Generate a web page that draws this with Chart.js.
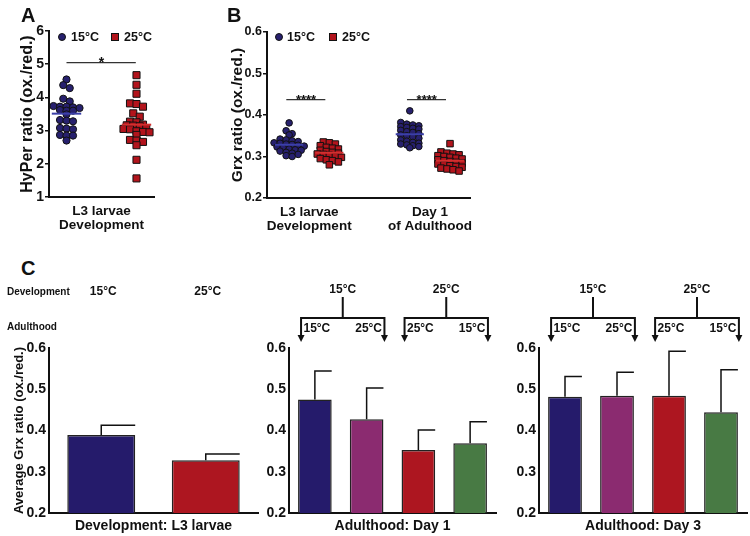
<!DOCTYPE html>
<html>
<head>
<meta charset="utf-8">
<title>HyPer / Grx ratio</title>
<script src="https://cdn.jsdelivr.net/npm/chart.js@4.4.1/dist/chart.umd.min.js"></script>
<style>
  body { margin: 0; background: #fff; }
  #fig { position: relative; width: 750px; height: 536px; overflow: hidden;
         font-family: "Liberation Sans", Arial, sans-serif; font-weight: bold; color: #111; }
  #fig canvas { position: absolute; }
  .t { position: absolute; white-space: nowrap; line-height: 1; }
  .dot { position: absolute; width: 8px; height: 8px; border-radius: 50%; background: #27206e; border: 1px solid #111; box-sizing: border-box; }
  .sq { position: absolute; width: 8px; height: 8px; background: #b2141c; border: 1px solid #111; box-sizing: border-box; }
</style>
</head>
<body>
<div id="fig">
  <canvas id="chartA" width="160" height="236" style="left:0;top:0"></canvas>
  <canvas id="chartB" width="290" height="236" style="left:190px;top:0"></canvas>
  <canvas id="chartC1" width="262" height="256" style="left:0;top:280px"></canvas>
  <canvas id="chartC2" width="260" height="256" style="left:240px;top:280px" ></canvas>
  <canvas id="chartC3" width="260" height="256" style="left:490px;top:280px"></canvas>

  <div class="t" style="left:21px;top:5px;font-size:20px">A</div>
  <div class="t" style="left:227px;top:5px;font-size:20px">B</div>
  <div class="t" style="left:21px;top:258px;font-size:20px">C</div>

  <!-- legends -->
  <span class="dot" style="left:58px;top:33px"></span><div class="t" style="left:71px;top:31px;font-size:12.5px">15°C</div>
  <span class="sq" style="left:111px;top:33px"></span><div class="t" style="left:124px;top:31px;font-size:12.5px">25°C</div>
  <span class="dot" style="left:275px;top:33px"></span><div class="t" style="left:287px;top:31px;font-size:12.5px">15°C</div>
  <span class="sq" style="left:329px;top:33px"></span><div class="t" style="left:342px;top:31px;font-size:12.5px">25°C</div>

  <div class="t" style="left:7px;top:287px;font-size:10px">Development</div>
  <div class="t" style="left:7px;top:322px;font-size:10px">Adulthood</div>
</div>

<script>
// ---- DATA ----
// Panel A: HyPer ratio, L3 larvae
const hyper15 = [4.54, 4.37, 4.28, 3.96, 3.88, 3.74, 3.72, 3.72, 3.70, 3.68, 3.62, 3.60, 3.60, 3.49,
                 3.32, 3.30, 3.28, 3.08, 3.06, 3.04, 2.87, 2.85, 2.85, 2.70];
const hyper25 = [4.67, 4.38, 4.11, 3.82, 3.80, 3.72, 3.52, 3.42, 3.27, 3.25, 3.18, 3.16, 3.15, 3.13,
                 3.07, 3.05, 3.04, 2.98, 2.96, 2.95, 2.87, 2.72, 2.70, 2.66, 2.56, 2.12, 1.56];
const hyperTicks = [1, 2, 3, 4, 5, 6];

// Panel B: Grx ratio
const bGroups = [['L3 larvae', 'Development'], ['Day 1', 'of Adulthood']];
const grxL3_15 = [0.381, 0.362, 0.355, 0.352, 0.342, 0.340, 0.338, 0.336, 0.333, 0.332, 0.330, 0.329, 0.327,
                  0.325, 0.323, 0.321, 0.318, 0.316, 0.315, 0.313, 0.310, 0.308, 0.305, 0.302, 0.300];
const grxL3_25 = [0.335, 0.333, 0.330, 0.326, 0.322, 0.320, 0.318, 0.315, 0.312, 0.310, 0.308, 0.306, 0.305,
                  0.303, 0.300, 0.298, 0.295, 0.292, 0.290, 0.287, 0.280];
const grxD1_15 = [0.410, 0.382, 0.378, 0.376, 0.374, 0.372, 0.370, 0.368, 0.366, 0.363, 0.360, 0.358, 0.355,
                  0.352, 0.350, 0.347, 0.344, 0.340, 0.337, 0.334, 0.332, 0.330, 0.328, 0.326, 0.324, 0.321];
const grxD1_25 = [0.331, 0.311, 0.308, 0.306, 0.304, 0.302, 0.300, 0.298, 0.296, 0.294, 0.292, 0.290, 0.288,
                  0.286, 0.284, 0.282, 0.280, 0.278, 0.276, 0.274, 0.272, 0.270, 0.268, 0.265];
const grxTicks = [0.2, 0.3, 0.4, 0.5, 0.6];

// Panel C: average Grx ratio (mean + SD)
const devTemps = ['15°C', '25°C'];
const devMean = [0.389, 0.328];
const devErr = [0.024, 0.015];
const devAdult = ['15°C', '15°C', '25°C', '25°C'];   // development temperature
const adultTemp = ['15°C', '25°C', '25°C', '15°C'];  // adulthood temperature
const day1Mean = [0.475, 0.427, 0.353, 0.369];
const day1Err = [0.069, 0.076, 0.048, 0.052];
const day3Mean = [0.482, 0.484, 0.484, 0.444];
const day3Err = [0.049, 0.057, 0.108, 0.103];

// ---- STYLE ----
const FONT = '"Liberation Sans", Arial, sans-serif';
const INK = '#111';
const NAVY = '#27206e', RED = '#b2141c';
const barColors = ['#251b6b', '#8b2b70', '#ad1620', '#487a44'];

Chart.defaults.font.family = FONT;
Chart.defaults.font.weight = 'bold';
Chart.defaults.color = INK;
Chart.defaults.animation = false;

const mean = a => a.reduce((s, v) => s + v, 0) / a.length;

// Prism-like scatter: values within dy of a row's first value share that row,
// and each row is spread sideways around the centre
function swarm(vals, cx, dy, dx) {
    const rows = [];
    [...vals].sort((a, b) => b - a).forEach(v => {
        const r = rows[rows.length - 1];
        if (r && v >= r[0] - dy) r.push(v); else rows.push([v]);
    });
    const pts = [];
    rows.forEach(r => r.forEach((v, i) => pts.push({ x: cx + (i - (r.length - 1) / 2) * dx, y: v })));
    return pts;
}

function hLine(x0, x1, y, color, w) {
    return { data: [{ x: x0, y }, { x: x1, y }], showLine: true, pointRadius: 0,
             borderColor: color, borderWidth: w, order: -1 };
}
function dots(pts, round) {
    return { data: pts, showLine: false,
             pointStyle: round ? 'circle' : 'rect',
             pointRadius: round ? 3.6 : 5, backgroundColor: round ? NAVY : RED,
             borderColor: INK, borderWidth: 1 };
}

// text marks (significance stars) placed in data units
const stars = {
    id: 'stars',
    afterDatasetsDraw(chart, args, opts) {
        if (!opts.items) return;
        const { ctx, scales: { x, y } } = chart;
        ctx.save();
        ctx.fillStyle = INK;
        ctx.font = opts.font;
        ctx.textAlign = 'center';
        opts.items.forEach(s => ctx.fillText(s.text, x.getPixelForValue(s.x), y.getPixelForValue(s.y) + 4));
        ctx.restore();
    }
};

// upper error bar with a half cap to the right
const errorBars = {
    id: 'errorBars',
    afterDatasetsDraw(chart, args, opts) {
        if (!opts.err) return;
        const { ctx, scales: { y } } = chart;
        const vals = chart.data.datasets[0].data;
        ctx.save();
        ctx.strokeStyle = INK;
        ctx.lineWidth = 1.5;
        chart.getDatasetMeta(0).data.forEach((bar, i) => {
            const top = y.getPixelForValue(vals[i] + opts.err[i]);
            ctx.beginPath();
            ctx.moveTo(bar.x, bar.y);
            ctx.lineTo(bar.x, top);
            ctx.lineTo(bar.x + bar.width / 2, top);
            ctx.stroke();
        });
        ctx.restore();
    }
};

// temperature labels and arrow brackets above the bars
const tempBrackets = {
    id: 'tempBrackets',
    afterDraw(chart, args, opts) {
        if (!opts.top) return;
        const ctx = chart.ctx;
        const bars = chart.getDatasetMeta(0).data;
        ctx.save();
        ctx.fillStyle = ctx.strokeStyle = INK;
        ctx.lineWidth = 2;
        ctx.font = 'bold 12px ' + FONT;
        ctx.textAlign = 'center';
        ctx.textBaseline = 'middle';
        if (!opts.pairs) {
            bars.forEach((b, i) => ctx.fillText(opts.top[i], b.x + 2, 12));
        } else {
            opts.pairs.forEach(([i, j]) => {
                const a = bars[i], b = bars[j];
                const x0 = a.x - a.width / 2 + 3, x1 = b.x + b.width / 2 + 1, xm = (x0 + x1) / 2;
                ctx.fillText(opts.top[i], xm, 10);
                ctx.beginPath();
                ctx.moveTo(xm, 17); ctx.lineTo(xm, 38);
                ctx.moveTo(x0, 56); ctx.lineTo(x0, 38); ctx.lineTo(x1, 38); ctx.lineTo(x1, 56);
                ctx.stroke();
                [x0, x1].forEach(x => {
                    ctx.beginPath();
                    ctx.moveTo(x - 3.5, 55); ctx.lineTo(x + 3.5, 55); ctx.lineTo(x, 62);
                    ctx.closePath(); ctx.fill();
                });
                ctx.fillText(opts.inner[i], a.x + 2, 49);
                ctx.fillText(opts.inner[j], b.x + 2, 49);
            });
        }
        ctx.restore();
    }
};
Chart.register(stars, errorBars, tempBrackets);

function yAxis(ticks, width, size, title, titleSize, titlePad, fmt, tickLen) {
    return {
        min: ticks[0], max: ticks[ticks.length - 1],
        afterBuildTicks: s => { s.ticks = ticks.map(v => ({ value: v })); },
        afterFit: s => { s.width = width; },
        ticks: { font: { size }, padding: tickLen ? 1 : 3, callback: fmt || (v => v) },
        grid: { drawOnChartArea: false, drawTicks: !!tickLen, tickLength: tickLen || 0, color: INK, lineWidth: 1.5 },
        border: { color: INK, width: 2 },
        title: { display: !!title, text: title, font: { size: titleSize }, padding: { top: titlePad, bottom: 0 } }
    };
}

// ---- PANEL A ----
new Chart(document.getElementById('chartA'), {
    type: 'scatter',
    data: {
        datasets: [
            hLine(-0.21, 0.21, mean(hyper15), '#3b3fa8', 2),
            hLine(0.79, 1.21, mean(hyper25), '#d32f2f', 2),
            hLine(0, 0.99, 5.05, '#333', 1.2),
            dots(swarm(hyper15, 0, 0.1, 0.093), true),
            dots(swarm(hyper25, 1, 0.1, 0.093), false)
        ]
    },
    options: {
        responsive: false,
        layout: { padding: { top: 31, right: 6, left: 0, bottom: 0 } },
        plugins: { legend: { display: false }, tooltip: { enabled: false },
                   stars: { font: 'bold 14px ' + FONT, items: [{ x: 0.5, y: 5.05, text: '*' }] } },
        scales: {
            x: { type: 'linear', min: -0.25, max: 1.25,
                 afterBuildTicks: s => { s.ticks = [{ value: 0.5 }]; },
                 afterFit: s => { s.height = 39; },
                 ticks: { font: { size: 13.5, lineHeight: 1.05 }, padding: 7, callback: () => ['L3 larvae', 'Development'] },
                 grid: { display: false, drawTicks: false }, border: { color: INK, width: 2 } },
            y: yAxis(hyperTicks, 49, 14, 'HyPer ratio (ox./red.)', 16, 18, null, 4)
        }
    }
});

// ---- PANEL B ----
const bSets = [[grxL3_15, grxL3_25], [grxD1_15, grxD1_25]];
const bData = [];
const bMarks = [];
bSets.forEach((pair, g) => {
    const c15 = g * 3, c25 = g * 3 + 1;
    bData.push(hLine(c15 - 0.35, c15 + 0.35, mean(pair[0]), '#3b3fa8', 2));
    bData.push(hLine(c25 - 0.35, c25 + 0.35, mean(pair[1]), '#d32f2f', 2));
    bData.push(hLine(c15 - 0.07, c25 - 0.1, 0.437, '#333', 1.2));
    bMarks.push(dots(swarm(pair[0], c15, 0.008, 0.15), true));
    bMarks.push(dots(swarm(pair[1], c25, 0.008, 0.15), false));
});
bMarks.forEach(d => { d.pointRadius = d.pointStyle === 'circle' ? 3.3 : 4.6; });

new Chart(document.getElementById('chartB'), {
    type: 'scatter',
    data: { datasets: bData.concat(bMarks) },
    options: {
        responsive: false,
        layout: { padding: { top: 32, right: 5, left: 0, bottom: 0 } },
        plugins: { legend: { display: false }, tooltip: { enabled: false },
                   stars: { font: 'bold 13px ' + FONT,
                            items: bGroups.map((g, i) => ({ x: i * 3 + 0.42, y: 0.437, text: '****' })) } },
        scales: {
            x: { type: 'linear', min: -0.55, max: 4.5,
                 afterBuildTicks: s => { s.ticks = bGroups.map((g, i) => ({ value: i * 3 + 0.5 })); },
                 afterFit: s => { s.height = 38; },
                 ticks: { font: { size: 13.5, lineHeight: 1.05 }, padding: 7, autoSkip: false,
                          callback: (v, i) => bGroups[i] },
                 grid: { display: false, drawTicks: false }, border: { color: INK, width: 2 } },
            y: yAxis(grxTicks, 77, 12.5, 'Grx ratio (ox./red.)', 15.5, 38, v => v.toFixed(1), 4)
        }
    }
});

// ---- PANEL C ----
function barChart(id, cats, means, errs, colors, xTitle, yTitle, annot) {
    return new Chart(document.getElementById(id), {
        type: 'bar',
        data: { labels: cats, datasets: [{ data: means, backgroundColor: colors, borderColor: '#222',
                                          borderWidth: 1.5, barPercentage: 0.65, categoryPercentage: 1 }] },
        options: {
            responsive: false,
            layout: { padding: { top: 68, right: annot.padRight, left: 0, bottom: 0 } },
            plugins: { legend: { display: false }, tooltip: { enabled: false },
                       errorBars: { err: errs }, tempBrackets: annot },
            scales: {
                x: { afterFit: s => { s.height = 23; },
                     ticks: { display: false }, grid: { display: false, drawTicks: false },
                     border: { color: INK, width: 2 },
                     title: { display: true, text: xTitle, font: { size: 14 }, padding: { top: 0, bottom: 1 } } },
                y: yAxis(grxTicks, 49, 14, yTitle, 13, 12, v => v.toFixed(1), 0)
            }
        }
    });
}

barChart('chartC1', devTemps, devMean, devErr, [barColors[0], barColors[2]],
         'Development: L3 larvae', 'Average Grx ratio (ox./red.)', { top: devTemps, padRight: 4 });
barChart('chartC2', adultTemp, day1Mean, day1Err, barColors, 'Adulthood: Day 1', '',
         { top: devAdult, inner: adultTemp, pairs: [[0, 1], [2, 3]], padRight: 4 });
barChart('chartC3', adultTemp, day3Mean, day3Err, barColors, 'Adulthood: Day 3', '',
         { top: devAdult, inner: adultTemp, pairs: [[0, 1], [2, 3]], padRight: 3 });
</script>
</body>
</html>
